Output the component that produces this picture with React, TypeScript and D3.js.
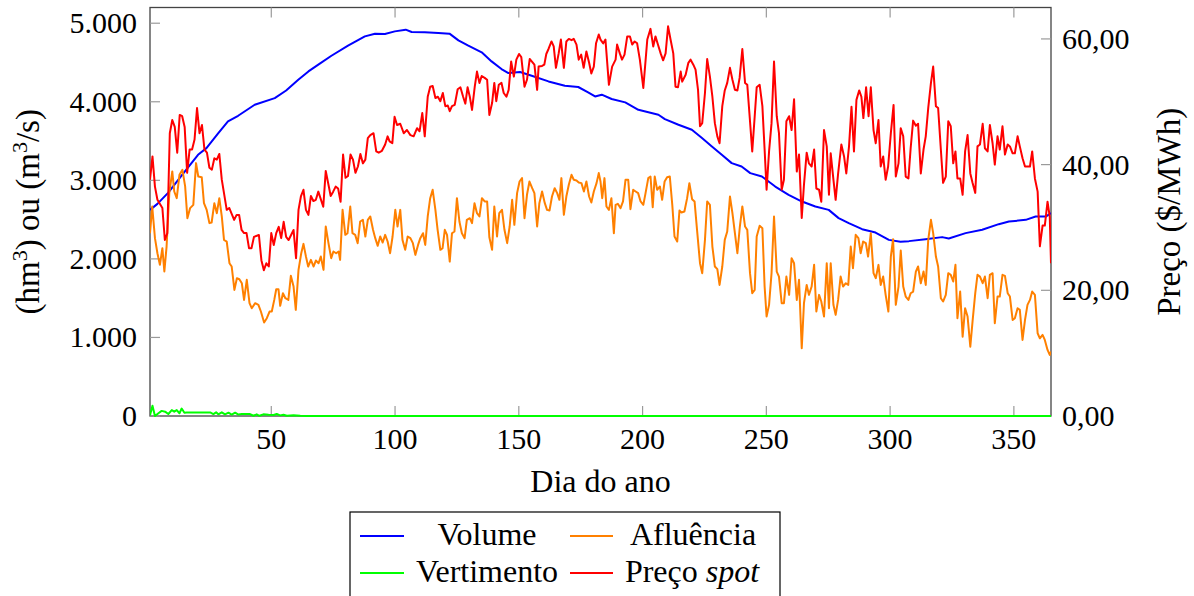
import React from "react";
import * as d3 from "d3";

// Dia do ano, valor
const volumePoints: [number, number][] = [
  [1, 2624], [4, 2700], [8.3, 2841], [13.5, 3049], [20.4, 3325], [23.8, 3410], [28.6, 3601], [32.5, 3750],
  [36.6, 3822], [43.3, 3962], [51.4, 4047], [56, 4144], [60.9, 4280], [65, 4386], [69, 4472], [74.3, 4586],
  [81, 4714], [87.8, 4832], [91.9, 4867], [95.9, 4862], [99.9, 4896], [104.3, 4918], [106.7, 4888], [112, 4884],
  [117.5, 4875], [122, 4867], [125.6, 4782], [129.6, 4714], [135, 4629], [139, 4514], [143, 4417], [145.8, 4366],
  [150.5, 4379], [155.2, 4332], [162, 4259], [168.6, 4204], [174, 4188], [178, 4119], [180.8, 4068], [183.5, 4090],
  [187.5, 4035], [193, 3992], [198.3, 3898], [206.4, 3835], [209, 3780], [214.5, 3707], [219.9, 3644], [224, 3538],
  [228, 3431], [232, 3325], [236, 3219], [240, 3176], [243.5, 3092], [248.2, 3049], [253.6, 2921], [259, 2816],
  [264.4, 2730], [269.8, 2667], [275.2, 2624], [279.2, 2519], [283.3, 2455], [288.7, 2378], [294.1, 2335],
  [299.5, 2242], [304.2, 2217], [307.6, 2226], [314.3, 2251], [321, 2277], [323.7, 2259], [330.5, 2328],
  [337.2, 2370], [343.9, 2442], [348, 2475], [354.8, 2497], [358.8, 2539], [362.9, 2539], [365, 2582],
];

const inflowPoints: [number, number][] = [
  [1, 2327], [1.9, 2667], [3, 2264], [4, 2072], [5, 1924], [6, 2136], [6.8, 1839], [7.7, 2157], [8.8, 2837],
  [10, 3113], [10.8, 2858], [11.8, 2773], [12.9, 3070], [14.1, 3134], [15.2, 2922], [16.1, 2518], [17.2, 2646],
  [18.5, 2688], [19.6, 3219], [20.5, 3049], [21.9, 3040], [22.8, 2709], [23.9, 2624], [25, 2455], [25.9, 2463],
  [27, 2709], [28, 2582], [29, 2773], [30, 2540], [30.9, 2242], [32, 2221], [33.1, 1945], [34, 1903], [35.1, 1605],
  [36.1, 1754], [37.1, 1741], [38.1, 1690], [39, 1478], [40.1, 1733], [41.2, 1436], [42.1, 1372], [43.5, 1436],
  [44.8, 1415], [45.8, 1330], [47.1, 1190], [48.2, 1245], [49.3, 1330], [50.2, 1330], [51.2, 1478], [52, 1614],
  [52.9, 1614], [53.6, 1402], [54.7, 1563], [55.7, 1499], [56.9, 1478], [57.9, 1784], [59, 1648], [59.9, 1351],
  [61, 1860], [62.1, 2072], [63, 2191], [64, 2030], [64.9, 1903], [66, 1988], [67.1, 1903], [68, 1979], [69.1, 1945],
  [70, 2030], [71.1, 1860], [72, 2412], [73.1, 2200], [74.2, 2009], [75.1, 2094], [76.2, 2072], [77.2, 2094],
  [77.8, 1988], [78.8, 2624], [79.9, 2306], [80.8, 2327], [81.9, 2667], [82.8, 2327], [83.9, 2306], [84.9, 2200],
  [85.9, 2476], [87, 2497], [88, 2285], [89, 2497],
  [90, 2540], [91.1, 2370], [92, 2264], [93, 2166], [94, 2285], [95, 2208], [96, 2306], [97, 2221], [98, 2072],
  [99, 2285], [100.1, 2624], [101, 2412], [102.1, 2624], [103, 2242], [104.1, 2115], [105.1, 2285], [106.2, 2264],
  [107.2, 2200], [108.2, 2051], [109.3, 2178], [110.2, 2264], [111.3, 2327], [112.2, 2178], [113.2, 2540],
  [114.2, 2773], [115.2, 2879], [116.3, 2624], [117.2, 2370], [118.3, 2115], [119.2, 2136], [120.1, 2370],
  [121, 2306], [122.1, 1966], [123, 2327], [124, 2349], [125, 2773], [126, 2476], [127, 2327], [128.1, 2264],
  [129, 2497], [130.2, 2518], [131.1, 2455], [132.1, 2709], [133.1, 2582], [134.1, 2540], [135.1, 2773],
  [136.2, 2731], [137.2, 2731], [138.1, 2276], [139.2, 2115], [140.1, 2667], [141.2, 2285], [142.1, 2582],
  [143.2, 2624], [144.2, 2370], [145.3, 2200], [146.3, 2412], [147.3, 2752], [148.2, 2434], [149.3, 2837],
  [150.3, 2985], [151.3, 3028], [152.3, 2518], [153.3, 2816], [154.3, 2985], [155.4, 2900], [156.3, 2837],
  [157.4, 2412], [158.3, 2709], [159.4, 2858], [160.5, 2709], [161.4, 2624], [162.4, 2616], [163.4, 2794],
  [164.5, 2900], [165.5, 2837], [166.4, 2752], [167.2, 3028], [168.2, 2561], [169.2, 2794], [170.2, 2943],
  [171.3, 3070], [172.2, 3007], [173.3, 2998], [174.2, 2973], [175.3, 2964], [176.3, 2858], [177.3, 2985],
  [178.4, 2794], [179.3, 2718], [180.3, 2858], [181.4, 2964], [182.3, 3092],
  [183, 2985], [183.7, 2773], [184.6, 3028], [185.4, 2667], [186.4, 2624], [187.4, 2773], [188.4, 2327],
  [189.1, 2688], [190, 2701], [191.1, 2646], [192.1, 2731], [193.1, 3007], [194.2, 3007], [195.1, 2633],
  [196.2, 2879], [197.2, 2858], [198.2, 2837], [199.2, 2731], [200.3, 2688], [201.2, 2837], [202.3, 3028],
  [203.2, 3049], [204.1, 2658], [204.9, 3049], [205.9, 2879], [207, 2922], [207.9, 2752], [208.9, 2985],
  [209.9, 3040], [211, 3049], [212, 2688], [212.9, 2285], [214, 2221], [214.9, 2616], [215.7, 2591], [216.9, 2603],
  [218, 2773], [218.9, 2964], [220, 2760], [221, 2731], [222, 2370], [223.2, 1945], [224.1, 1818], [225.2, 2242],
  [226.1, 2731], [227.2, 2688], [228.2, 2157], [229.2, 1903], [230.2, 1869], [231.1, 1669], [232.2, 1903],
  [233.2, 2242], [234.2, 2349], [235.3, 2794], [236.3, 2582], [237.3, 2327], [238.3, 2072], [239.3, 2412],
  [240.3, 2667], [241.4, 2412], [242.3, 2370], [243.4, 1818], [244.3, 1563], [245.3, 1605], [246.1, 2285],
  [247.3, 2421], [248.4, 2391], [249.3, 1648], [250.1, 1266], [251.1, 1415], [252.1, 1818], [253.1, 2540],
  [254.2, 1839], [255.1, 1775], [256.2, 1436], [257.1, 1436], [258.1, 1775], [259.2, 1542], [260.2, 2009],
  [261.2, 1945], [262.3, 1478], [263.2, 1733], [264.3, 862], [265.2, 1436], [266.3, 1669], [267.2, 1542],
  [268.3, 1648], [269.3, 1924], [270.2, 1330], [271.3, 1542], [272.2, 1457], [273.3, 1266], [274.4, 1945],
  [275.3, 1372],
  [276, 1945], [277.1, 1415], [278, 1287], [279, 1478], [280, 1775], [281, 1648], [282.1, 1690], [283.1, 1669],
  [284.1, 2157], [285, 1882], [286.1, 2306], [287.2, 2264], [288.1, 2072], [289.1, 2221], [290.2, 2200],
  [291.1, 2030], [292.2, 2327], [293.3, 1818], [294.2, 1754], [295.3, 1924], [296.2, 1669], [297.2, 1775],
  [298.2, 1542], [299.3, 1330], [300.3, 2030], [301.2, 2251], [302.3, 1415], [303.4, 1648], [304.3, 2106],
  [305.3, 1648], [306.3, 1521], [307.4, 1478], [308.3, 1563], [309.3, 1584], [310.4, 1839], [311.3, 1903],
  [312.4, 1690], [313.5, 1839], [314.4, 1669], [315.4, 2242], [316.5, 2497], [317.4, 2327], [318.5, 2030],
  [319.4, 1903], [320.5, 1499], [321.4, 1457], [322.5, 1542], [323.5, 1818], [324.5, 1797], [325.5, 1712],
  [326.4, 1924], [327.2, 1245], [328.3, 1584], [329.3, 1010], [330.3, 1372], [331.3, 1266], [332.4, 883],
  [333.3, 1202], [334.4, 1563], [335.3, 1797], [336.3, 1775], [337.4, 1690], [338.3, 1775], [339.4, 1499],
  [340.3, 1797], [341.4, 1818], [342.3, 1181], [343.4, 1521], [344.3, 1521], [345.4, 1797], [346.4, 1784],
  [347.5, 1563], [348.4, 1521], [349.5, 1223], [350.4, 1245], [351.5, 1372], [352.4, 1351], [353.5, 968],
  [354.5, 1223], [355.5, 1415], [356.5, 1478], [357.4, 1584], [358.5, 1542], [359.6, 1053], [360.5, 989],
  [361.6, 1032], [362.5, 968], [363.6, 841], [364.5, 777], [365, 820],
];

const spillPoints: [number, number][] = [
  [1, 10], [2, 130], [3, 0], [4.4, 35], [5.7, 65], [7.1, 55], [8.4, 25], [9.8, 75], [10.8, 55], [11.8, 75],
  [12.9, 35], [13.8, 95], [14.9, 42], [15.8, 45], [25.3, 45], [26.6, 25], [27.7, 47], [28.6, 21], [30, 47],
  [31.3, 21], [32.7, 42], [34, 18], [35.4, 42], [36.7, 18], [38.1, 25], [40.1, 25], [41.4, 25], [42.8, 3],
  [44.1, 21], [45.2, 3], [46.8, 21], [48.9, 15], [50.9, 13], [52.2, 25], [53.6, 8], [54.9, 15], [56.3, 3],
  [59, 8], [61.7, 3], [64.4, 0], [365, 0],
];

const pricePoints: [number, number][] = [
  [1, 37.6], [2, 41.3], [3, 36.5], [4, 34.4], [6, 33.1], [7, 28.0], [8, 29.1], [9, 45.0], [10, 47.1], [11, 46.0],
  [12, 41.9], [13, 47.9], [14, 47.7], [15, 46.0], [16, 38.7], [17, 42.4], [18, 42.4], [19, 44.0], [20, 49.0],
  [21, 45.0], [22, 46.3], [23, 42.4], [24, 41.9], [25, 39.5], [26, 39.2], [27, 41.0], [28, 40.8], [29, 41.7],
  [30, 37.6], [32, 32.8], [33, 33.1], [35, 31.2], [36, 32.0], [37, 32.0], [38, 29.6], [39, 29.1], [40, 29.1],
  [41, 26.7], [42, 26.7], [43, 28.5], [45, 28.8], [46, 24.8], [47, 23.2], [48, 24.3], [49, 23.8], [50, 29.1],
  [51, 27.2], [52, 29.1], [53, 30.1], [54, 28.3], [55, 30.9], [56, 28.5], [57, 28.0], [59, 29.6], [60, 25.1],
  [61, 32.8], [62, 35.0], [63, 36.0], [64, 32.8], [65, 32.0], [66, 35.0], [67, 34.2], [68, 34.4], [69, 35.7],
  [71, 33.3], [72, 39.0], [74, 35.0], [75, 35.7], [76, 36.5], [77, 36.2], [78, 34.1], [79, 41.6], [80, 37.9],
  [81, 38.2], [82, 41.6], [83, 40.8], [84, 38.7], [85, 39.7], [86, 41.7], [87, 40.2], [88, 40.8], [89, 44.2],
  [90, 44.7], [91.3, 45.0], [92.4, 42.1], [93.4, 41.9], [94.7, 42.2], [96, 43.2], [97, 44.5], [97.8, 43.7],
  [98.9, 43.4], [99.8, 47.6], [100.8, 46.3], [102.1, 46.5], [103.5, 45.0], [104.8, 45.5], [106.2, 44.7],
  [107.5, 44.5], [108.9, 45.8], [109.9, 45.3], [111, 48.2], [112, 44.5], [113.2, 50.8], [114.2, 52.4],
  [115.2, 52.5], [116.3, 50.6], [117.3, 50.8], [118.3, 50.1], [119.3, 51.4], [120.3, 49.3], [121.3, 49.4],
  [122.1, 48.5], [123, 49.3], [124.1, 49.5], [125.3, 52.0], [126.4, 52.3], [127.5, 50.8], [128.4, 49.7],
  [129.3, 52.3], [130.2, 50.8], [131.1, 48.7], [132.2, 52.4], [133.1, 54.8], [134.1, 53.0], [135, 54.1],
  [136.2, 53.8], [137.2, 53.5], [138.1, 47.9], [139.2, 49.8], [140.1, 53.0], [140.9, 50.1], [141.9, 52.7],
  [143, 53.0], [143.9, 51.4], [145, 50.8], [145.9, 51.9], [146.9, 56.4], [148, 54.0], [149, 56.7], [150.1, 57.6],
  [151, 57.1], [152.3, 52.4], [153.3, 53.5], [154.4, 56.8], [155.3, 56.4], [156.3, 55.9], [157.4, 51.9],
  [158, 55.6], [159.4, 55.7], [160.3, 55.9], [161.1, 57.6], [162, 58.4], [163.2, 59.6], [164.1, 58.8],
  [165, 55.4], [166.1, 57.7], [167, 59.9], [168.2, 55.4], [169.2, 59.6], [170.2, 60.0], [171.3, 59.8],
  [172.2, 60.0], [173.3, 59.1], [174.2, 56.7], [175.2, 57.5], [176.2, 55.4], [177.3, 58.0], [178.4, 56.2],
  [179.3, 54.5], [180.3, 55.6], [181.2, 59.3], [182.3, 60.7],
  [183, 59.9], [184.1, 59.3], [185, 59.9], [186.4, 52.7], [187.7, 55.6], [189.1, 56.7], [189.7, 59.1],
  [190.8, 57.7], [191.7, 56.7], [192.7, 57.5], [193.8, 60.4], [194.9, 60.4], [195.8, 59.1], [196.8, 59.6],
  [197.8, 59.3], [198.9, 56.7], [200.3, 52.2], [201.9, 59.9], [203.2, 61.6], [204.3, 58.8], [205.2, 60.4],
  [206.2, 59.1], [207.3, 57.7], [208.3, 56.6], [209.3, 57.7], [210.3, 62.0], [211.3, 59.9], [212.4, 57.7],
  [213.3, 52.4], [214.3, 52.3], [215.4, 54.8], [216, 53.2], [217.4, 54.3], [218.5, 56.2], [219.4, 56.7],
  [220.5, 55.9], [221.4, 55.1], [222.4, 51.9], [223.2, 46.1], [224.1, 46.6], [225.2, 51.4], [226.1, 56.8],
  [227.2, 54.0], [228.2, 50.8], [229.2, 46.6], [230.2, 44.5], [231.1, 43.4], [232.2, 49.3], [233.2, 51.8],
  [234.2, 53.0], [235.3, 55.4], [236.3, 53.5], [237.3, 51.9], [238.3, 51.8], [239.2, 53.8], [240.3, 58.4],
  [241.4, 53.0], [242.3, 52.7], [243.4, 46.9], [244.3, 42.1], [245.3, 47.7], [246.1, 52.3], [247.3, 52.7],
  [248.4, 49.3], [249.3, 42.4], [250.1, 36.0], [251.1, 42.1], [252.1, 46.6], [253.1, 56.4], [254.2, 47.7],
  [255.1, 45.0], [256.2, 36.0], [257.1, 37.6], [258.1, 46.9], [259.2, 47.7], [260.2, 45.5], [261.2, 50.4],
  [262.3, 38.9], [263.2, 41.6], [264.3, 31.5], [265.2, 36.8], [266.3, 41.9], [267.2, 40.2], [268.3, 39.7],
  [269.3, 42.4], [270.2, 36.2], [271.3, 36.0], [272.2, 34.1], [273.3, 45.5], [274.4, 42.9], [275.3, 35.2],
  [276, 41.8], [277.1, 37.6], [278, 34.4], [279, 38.6], [280.3, 43.2], [281.4, 41.3], [282.3, 38.6],
  [283.4, 42.9], [284.4, 49.2], [285.4, 42.1], [286.4, 50.3], [287.5, 51.8], [288.4, 50.8], [289.2, 47.4],
  [290.3, 52.3], [291.3, 47.7], [292.2, 52.3], [293.3, 45.5], [294.2, 43.4], [295.3, 47.1], [296.2, 39.7],
  [297.2, 41.3], [298.2, 37.6], [299.2, 39.7], [300.3, 45.0], [301.4, 49.5], [302.3, 38.1], [303.4, 40.2],
  [304.3, 45.8], [305.3, 44.5], [306.3, 38.1], [307.4, 37.8], [308.3, 42.6], [309.3, 47.0], [310.4, 46.2],
  [311.3, 46.5], [312.4, 38.6], [313.5, 42.4], [314.4, 44.5], [315.4, 49.0], [316.5, 53.0], [317.4, 55.6],
  [318.5, 49.3], [319.4, 49.0], [320.5, 42.4], [321.4, 37.1], [322.5, 38.1], [323.5, 46.9], [324.5, 46.1],
  [325.5, 40.2], [326.4, 42.1], [327.2, 37.8], [328.3, 37.8], [329.3, 35.2], [330.3, 42.1], [331.3, 44.7],
  [332.4, 38.6], [333.3, 37.1], [334.4, 35.5], [335.3, 42.9], [336.3, 43.2], [337.4, 46.5], [338.3, 42.6],
  [339.4, 42.1], [340.3, 46.3], [341.4, 43.4], [342.3, 40.0], [343.4, 44.5], [344.3, 42.4], [345.4, 46.1],
  [346.4, 41.6], [347.5, 43.2], [348.4, 42.9], [349.5, 41.8], [350.4, 41.8], [351.5, 44.5], [352.4, 42.9],
  [353.5, 41.0], [354.5, 39.7], [355.5, 39.7], [356.5, 39.7], [357.4, 42.1], [358.5, 37.8], [359.6, 35.7],
  [360.5, 27.0], [361.6, 30.3], [362.5, 30.3], [363.6, 34.1], [364.5, 31.7], [365, 24.3],
];

const xTicks = [50, 100, 150, 200, 250, 300, 350];
const leftTicks = [0, 1000, 2000, 3000, 4000, 5000];
const rightTicks = [0, 20, 40, 60];

const W = 1194;
const H = 596;
const L = 150;
const R = 1051;
const T = 7.5;
const B = 416;

const FONT = "'Liberation Serif', 'Times New Roman', serif";

const locale = d3.formatLocale({ decimal: ",", thousands: ".", grouping: [3], currency: ["R$", ""] });
const fmtLeft = locale.format(",");
const fmtRight = locale.format(",.2f");

export default function App() {
  const x = d3.scaleLinear().domain([1, 365]).range([L, R]);
  const yL = d3.scaleLinear().domain([0, 5200]).range([B, T]);
  const yR = d3.scaleLinear().domain([0, 65]).range([B, T]);

  const lineL = d3.line<[number, number]>().x((d) => x(d[0])).y((d) => yL(d[1]));
  const lineR = d3.line<[number, number]>().x((d) => x(d[0])).y((d) => yR(d[1]));

  const tickLen = 10;
  const tickColor = "#9a9a9a";
  const lw = 2;

  const series = [
    { d: lineL(volumePoints), c: "#0000ff" },
    { d: lineL(inflowPoints), c: "#ff8000" },
    { d: lineL(spillPoints), c: "#00ff00" },
    { d: lineR(pricePoints), c: "#ff0000" },
  ];

  return (
    <svg
      width={W}
      height={H}
      viewBox={`0 0 ${W} ${H}`}
      style={{ position: "fixed", left: 0, top: 0, display: "block", background: "#fff" }}
      fontFamily={FONT}
    >
      <defs>
        <clipPath id="plotclip">
          <rect x={L} y={T - 2} width={R - L} height={B - T + 4} />
        </clipPath>
      </defs>
      <rect x={0} y={0} width={W} height={H} fill="#fff" />

      {/* frame */}
      <rect x={L} y={T} width={R - L} height={B - T} fill="none" stroke="#444" strokeWidth={1.3} />

      {/* ticks */}
      {xTicks.map((t) => (
        <g key={"xt" + t}>
          <line x1={x(t)} x2={x(t)} y1={B} y2={B - tickLen} stroke={tickColor} strokeWidth={1.2} />
          <line x1={x(t)} x2={x(t)} y1={T} y2={T + tickLen} stroke={tickColor} strokeWidth={1.2} />
          <text x={x(t)} y={449} textAnchor="middle" fontSize={30} fill="#000">
            {t}
          </text>
        </g>
      ))}
      {leftTicks.map((t) => (
        <g key={"lt" + t}>
          <line x1={L} x2={L + tickLen} y1={yL(t)} y2={yL(t)} stroke={tickColor} strokeWidth={1.2} />
          <text x={137} y={yL(t) + 10} textAnchor="end" fontSize={30} fill="#000">
            {fmtLeft(t)}
          </text>
        </g>
      ))}
      {rightTicks.map((t) => (
        <g key={"rt" + t}>
          <line x1={R} x2={R - tickLen} y1={yR(t)} y2={yR(t)} stroke={tickColor} strokeWidth={1.2} />
          <text x={1062} y={yR(t) + 10} textAnchor="start" fontSize={30} fill="#000">
            {fmtRight(t)}
          </text>
        </g>
      ))}

      {/* series */}
      <g clipPath="url(#plotclip)">
        {series.map((s, i) => (
          <path key={i} d={s.d || ""} fill="none" stroke={s.c} strokeWidth={lw} strokeLinejoin="round" />
        ))}
      </g>

      {/* axis labels */}
      <text x={(L + R) / 2} y={492} textAnchor="middle" fontSize={32} fill="#000">
        Dia do ano
      </text>
      <text transform={`translate(39, ${(T + B) / 2}) rotate(-90)`} textAnchor="middle" fontSize={33} fill="#000">
        (hm<tspan dy={-12} fontSize={22}>3</tspan>
        <tspan dy={12}>) ou (m</tspan>
        <tspan dy={-12} fontSize={22}>3</tspan>
        <tspan dy={12}>/s)</tspan>
      </text>
      <text transform={`translate(1180, ${(T + B) / 2}) rotate(-90)`} textAnchor="middle" fontSize={33} fill="#000">
        Preço ($/MWh)
      </text>

      {/* legend */}
      <rect x={350} y={512} width={430} height={95} fill="#fff" stroke="#000" strokeWidth={1.2} />
      <line x1={360} x2={404} y1={536} y2={536} stroke="#0000ff" strokeWidth={lw} />
      <text x={487} y={545} textAnchor="middle" fontSize={32}>Volume</text>
      <line x1={570} x2={613} y1={536} y2={536} stroke="#ff8000" strokeWidth={lw} />
      <text x={693} y={545} textAnchor="middle" fontSize={32}>Afluência</text>
      <line x1={360} x2={404} y1={573} y2={573} stroke="#00ff00" strokeWidth={lw} />
      <text x={487} y={582} textAnchor="middle" fontSize={32}>Vertimento</text>
      <line x1={570} x2={613} y1={573} y2={573} stroke="#ff0000" strokeWidth={lw} />
      <text x={692} y={582} textAnchor="middle" fontSize={32}>
        Preço <tspan fontStyle="italic">spot</tspan>
      </text>
    </svg>
  );
}
